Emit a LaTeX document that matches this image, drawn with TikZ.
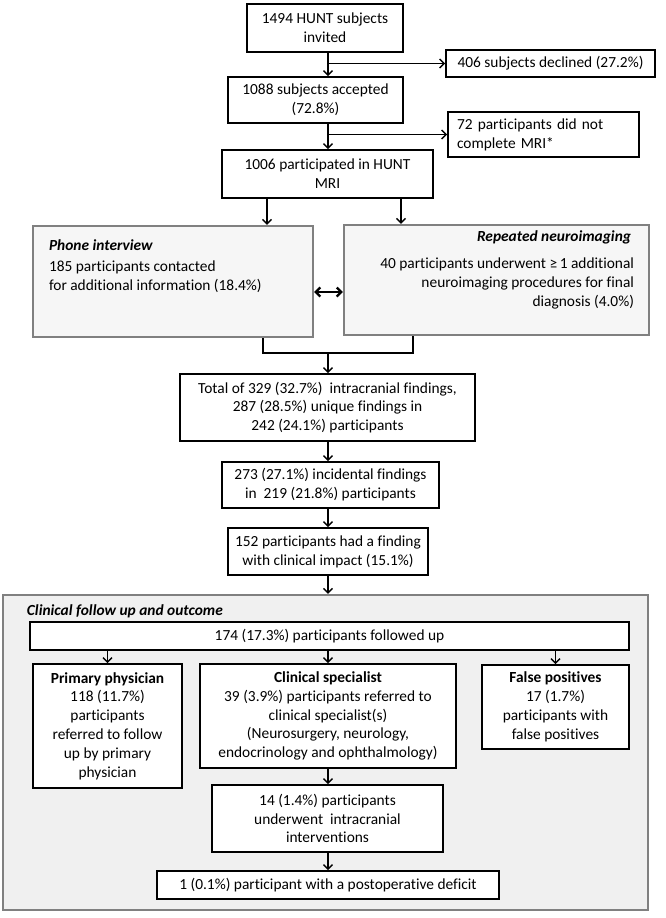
\documentclass[tikz,border=0pt]{standalone}
\usepackage{fontspec}
\setmainfont{Carlito}[Ligatures = NoCommon]
\usetikzlibrary{arrows.meta}

\definecolor{panelgrey}{HTML}{F0F0F0}
\definecolor{panelline}{HTML}{808080}
\definecolor{sidegrey}{HTML}{F6F6F6}

\begin{document}
\begin{tikzpicture}[%
        x = 1pt,
        y = -1pt,
        every node/.style = {%
            font = \fontsize{15.4}{18.8}\selectfont,
            inner sep = 0pt
        },
        plainbox/.style = {%
            draw = black,
            line width = 1.6pt,
            fill = white,
            align = center
        },
        greybox/.style = {%
            draw = panelline,
            line width = 2.4pt,
            fill = sidegrey
        },
        flow/.style = {%
            ->,
            line width = 1.4pt
        },
        > = {Straight Barb[length = 4.5pt, width = 9pt]}
    ]

        \useasboundingbox (0, 0) rectangle (666, 918);

        % Recruitment: invited, accepted and scanned subjects.
        \node[plainbox, minimum width = 156pt, minimum height = 48pt]
            (invited) at (325, 28) {1494 HUNT subjects\\invited};
        \node[plainbox, minimum width = 209pt, minimum height = 27pt]
            (declined) at (550.5, 63.5) {406 subjects declined (27.2\%)};
        \node[plainbox, minimum width = 175pt, minimum height = 46pt]
            (accepted) at (315.5, 100) {1088 subjects accepted\\(72.8\%)};
        \node[plainbox, align = left, text width = 173pt, inner xsep = 9pt,
              minimum height = 45pt]
            (notmri) at (543.5, 134.5) {72 participants did not\\complete MRI*};
        \node[plainbox, minimum width = 211pt, minimum height = 48pt]
            (hunt) at (327.5, 174) {1006 participated in HUNT\\MRI};

        % The two grey side panels after the scan.
        \node[greybox, minimum width = 280pt, minimum height = 111pt]
            (phone) at (173, 281.5) {};
        \node[anchor = base west]
            (phonetitle) at ([shift = {(17, 26)}]phone.north west)
            {\bfseries\itshape Phone interview};
        \node[anchor = north west, align = left]
            (phonetext) at ([shift = {(17, 36)}]phone.north west)
            {185 participants contacted\\for additional information (18.4\%)};

        \node[greybox, minimum width = 305pt, minimum height = 110pt]
            (neuro) at (496.5, 280) {};
        \node[anchor = base east]
            (neurotitle) at ([shift = {(-19, 18)}]neuro.north east)
            {\bfseries\itshape Repeated neuroimaging};
        \node[anchor = north east, align = right]
            (neurotext) at ([shift = {(-16, 34)}]neuro.north east)
            {40 participants underwent ≥\,1 additional\\neuroimaging procedures for final\\diagnosis (4.0\%)};

        % Findings.
        \node[plainbox, minimum width = 295pt, minimum height = 67pt]
            (total) at (327.5, 407.5)
            {Total of 329 (32.7\%)~ intracranial findings,\\287 (28.5\%) unique findings in\\242 (24.1\%) participants};
        \node[plainbox, minimum width = 217pt, minimum height = 46pt]
            (incid) at (330.5, 485)
            {273 (27.1\%) incidental findings\\in~ 219 (21.8\%) participants};
        \node[plainbox, minimum width = 200pt, minimum height = 47pt]
            (impact) at (328, 551.5)
            {152 participants had a finding\\with clinical impact (15.1\%)};

        % Clinical follow up panel.
        \node[draw = panelline, line width = 2.4pt, fill = panelgrey,
              minimum width = 645pt, minimum height = 315pt]
            (clinical) at (325.5, 752.5) {};
        \node[anchor = base west]
            (clintitle) at ([shift = {(25, 22)}]clinical.north west)
            {\bfseries\itshape Clinical follow up and outcome};
        \node[plainbox, minimum width = 599pt, minimum height = 28pt]
            (fu174) at (329.5, 636) {174 (17.3\%) participants followed up};
        \node[plainbox, minimum width = 149pt, minimum height = 124pt]
            (primary) at (107.5, 726)
            {\textbf{Primary physician}\\118 (11.7\%)\\participants\\referred to follow\\up by primary\\physician};
        \node[plainbox, minimum width = 256pt, minimum height = 104pt]
            (specialist) at (328, 716)
            {\textbf{Clinical specialist}\\39 (3.9\%) participants referred to\\clinical specialist(s)\\(Neurosurgery, neurology,\\endocrinology and ophthalmology)};
        \node[plainbox, minimum width = 147pt, minimum height = 84pt]
            (falsepos) at (555.5, 707)
            {\textbf{False positives}\\17 (1.7\%)\\participants with\\false positives};
        \node[plainbox, minimum width = 231pt, minimum height = 67pt]
            (interv) at (327.5, 818.5)
            {14 (1.4\%) participants\\underwent~ intracranial\\interventions};
        \node[plainbox, minimum width = 342pt, minimum height = 28pt]
            (deficit) at (328, 885)
            {1 (0.1\%) participant with a postoperative deficit};

        % Helper columns for the connectors.
        \coordinate (spine) at (328, 0);
        \coordinate (lsplit) at (267, 0);
        \coordinate (rsplit) at (401, 0);
        \coordinate (ljoin) at (263, 0);
        \coordinate (rjoin) at (413, 0);
        \coordinate (join) at (328, 353);

        % Top chain with the two drop-outs.
        \draw[flow] (invited.south -| spine) to (accepted.north -| spine);
        \draw[flow] (spine |- declined.west) to (declined.west);
        \draw[flow] (accepted.south -| spine) to (hunt.north -| spine);
        \draw[flow] (spine |- notmri.west) to (notmri.west);

        % Split into the side panels and join again.
        \draw[flow] (hunt.south -| lsplit) to (phone.north -| lsplit);
        \draw[flow] (hunt.south -| rsplit) to (neuro.north -| rsplit);
        \draw[<->, line width = 2.2pt]
            ([yshift = -10.5pt]phone.east) to ([yshift = -12pt]neuro.west);
        \draw[line width = 1.4pt]
            (phone.south -| ljoin) |- (join) -| (neuro.south -| rjoin);
        \draw[flow] (join) to (total.north -| join);

        % Findings down to the follow up panel.
        \draw[flow] (total.south -| spine) to (incid.north -| spine);
        \draw[flow] (incid.south -| spine) to (impact.north -| spine);
        \draw[flow] (impact.south -| spine) to (clinical.north -| spine);

        % Inside the follow up panel.
        \draw[flow] (fu174.south -| primary) to (primary.north);
        \draw[flow] (fu174.south -| spine) to (specialist.north -| spine);
        \draw[flow] (fu174.south -| falsepos) to (falsepos.north);
        \draw[flow] (specialist.south -| spine) to (interv.north -| spine);
        \draw[flow] (interv.south -| spine) to (deficit.north -| spine);
    \end{tikzpicture}
\end{document}
